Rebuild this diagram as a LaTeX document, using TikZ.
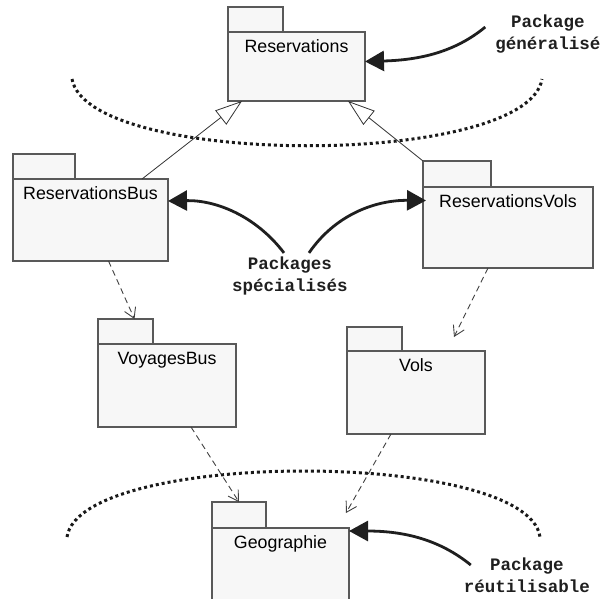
\documentclass[tikz,border=0pt]{standalone}
\usepackage{fontspec}
\setsansfont{Liberation Sans}
\setmonofont{Liberation Mono}
\usepackage{tikz}
\usetikzlibrary{arrows.meta}
\colorlet{pkgfill}{black!3}
\colorlet{pkgline}{black!65}
\colorlet{noteink}{black!88}
\tikzset{
  pkgbody/.style={draw=pkgline, fill=pkgfill, line width=1.1pt, inner sep=0pt, outer sep=0pt, anchor=north west},
  pkgtab/.style={pkgbody, minimum width=55pt, minimum height=25pt, anchor=south west},
  pkgname/.style={font=\sffamily\fontsize{17.8}{20}\selectfont, anchor=base, inner sep=0pt},
  note/.style={font=\ttfamily\bfseries\fontsize{17.5}{21.5}\selectfont, align=center, inner sep=0pt, text=noteink},
  hint/.style={draw=noteink, line width=2.8pt, -{Triangle[length=19pt,width=20pt]}},
  inherit/.style={draw=black!80, line width=0.8pt, -{Triangle[open,length=27pt,width=18pt]}},
  uses/.style={draw=black!75, line width=0.9pt, dash pattern=on 6pt off 4pt, -{Straight Barb[length=10pt,width=12pt]}},
  frontier/.style={draw=black!90, line width=3pt, dash pattern=on 3pt off 3pt},
}
\begin{document}
\begin{tikzpicture}[x=1pt, y=-1pt]
  \useasboundingbox (0,0) rectangle (608,598);
  \clip (0,0) rectangle (608,598);

  % frontieres
  \draw[frontier] (72,79) .. controls (88,168) and (528,168) .. (542,79);
  \draw[frontier] (67,537) .. controls (80,449) and (528,449) .. (540,537);

  % packages
  \node[pkgbody, minimum width=137pt, minimum height=69pt] (resa) at (228,32) {};
  \node[pkgtab] (resa-tab) at (resa.north west) {};
  \node[pkgname] (resa-name) at ([yshift=-20pt]resa.north) {Reservations};

  \node[pkgbody, minimum width=155pt, minimum height=82pt] (resabus) at (13,179) {};
  \node[pkgtab, minimum width=62pt] (resabus-tab) at (resabus.north west) {};
  \node[pkgname] (resabus-name) at ([yshift=-20pt]resabus.north) {ReservationsBus};

  \node[pkgbody, minimum width=170pt, minimum height=81pt] (resavols) at (423,187) {};
  \node[pkgtab, minimum width=68pt, minimum height=26pt] (resavols-tab) at (resavols.north west) {};
  \node[pkgname] (resavols-name) at ([yshift=-20pt]resavols.north) {ReservationsVols};

  \node[pkgbody, minimum width=138pt, minimum height=83pt] (voyagesbus) at (98,344) {};
  \node[pkgtab] (voyagesbus-tab) at (voyagesbus.north west) {};
  \node[pkgname] (voyagesbus-name) at ([yshift=-20pt]voyagesbus.north) {VoyagesBus};

  \node[pkgbody, minimum width=138pt, minimum height=83pt] (vols) at (347,351) {};
  \node[pkgtab, minimum height=24pt] (vols-tab) at (vols.north west) {};
  \node[pkgname] (vols-name) at ([yshift=-20pt]vols.north) {Vols};

  \node[pkgbody, minimum width=137pt, minimum height=83pt] (geo) at (212,528) {};
  \node[pkgtab, minimum width=54pt, minimum height=26pt] (geo-tab) at (geo.north west) {};
  \node[pkgname] (geo-name) at ([yshift=-20pt]geo.north) {Geographie};

  % generalisation et dependances
  \draw[inherit] ([xshift=-26pt]resabus.north east) -- ([xshift=14pt]resa.south west);
  \draw[inherit] (resavols-tab.north west) -- ([xshift=-17pt]resa.south east);
  \draw[uses] ([xshift=18pt]resabus.south) -- ([xshift=9pt]voyagesbus-tab.north);
  \draw[uses] ([xshift=-20pt]resavols.south) -- ([xshift=-31pt,yshift=14pt]vols.north east);
  \draw[uses] ([xshift=24pt]voyagesbus.south) -- (geo-tab.north);
  \draw[uses] ([xshift=-25pt]vols.south) -- ([xshift=-3pt,yshift=15pt]geo.north east);

  % notes
  \node[note] (gen) at (548,34) {Package\\généralisé};
  \node[note] (spec) at (290,276) {Packages\\spécialisés};
  \node[note] (reu) at (527,575) {Package\\réutilisable};

  \draw[hint] ([xshift=-10pt,yshift=7pt]gen.west) .. controls (455,52) and (420,60) .. ([yshift=5pt]resa.east);
  \draw[hint] ([xshift=-6pt,yshift=4pt]spec.north) .. controls (255,215) and (215,200) .. ([yshift=19pt]resabus.east);
  \draw[hint] ([xshift=19pt,yshift=4pt]spec.north) .. controls (335,215) and (375,200) .. ([xshift=3pt,yshift=27pt]resavols.west);
  \draw[hint] ([xshift=7pt,yshift=10pt]reu.west) .. controls (440,540) and (405,531) .. ([yshift=-3pt]geo.north east);
\end{tikzpicture}
\end{document}
